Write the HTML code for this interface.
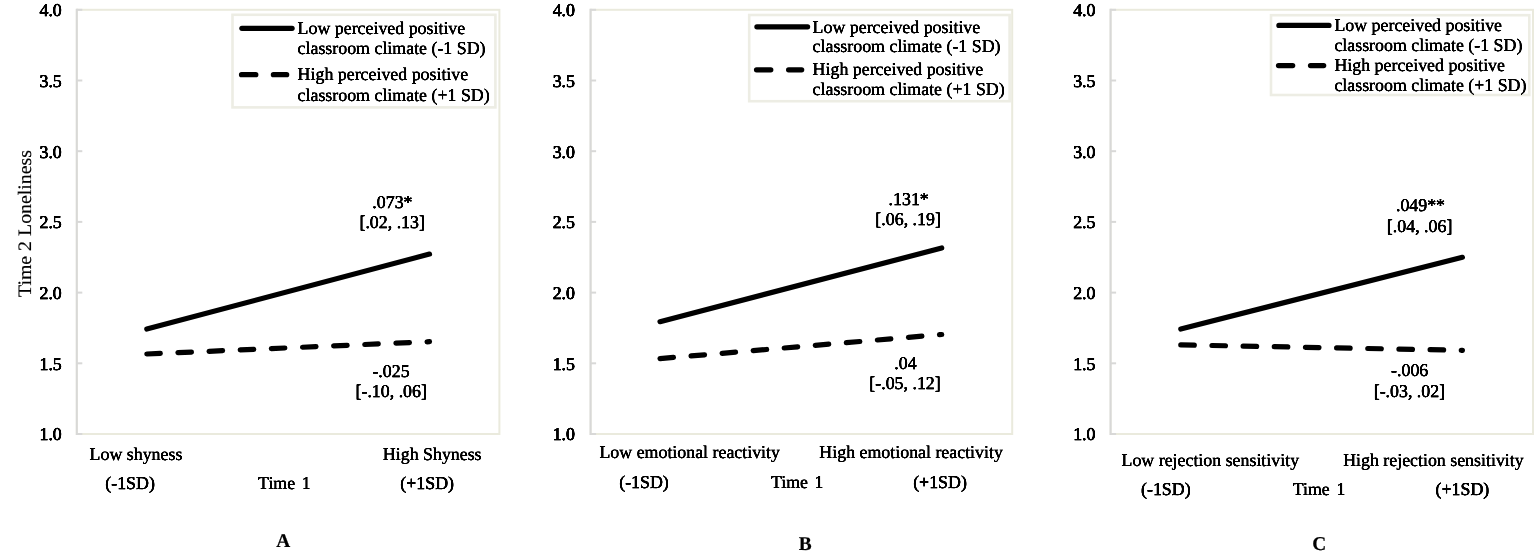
<!DOCTYPE html>
<html lang="en"><head><meta charset="utf-8"><title>Figure</title>
<style>html,body{margin:0;padding:0;background:#fff;overflow:hidden}svg{display:block}text{filter:url(#hb);text-rendering:geometricPrecision;font-family:"Liberation Serif", "DejaVu Serif", serif;font-size:18px;fill:#000;stroke:#000;stroke-width:0.15px;white-space:pre}.n{font-size:18px;stroke-width:0.25px}.d{stroke:#000;stroke-width:5.2;stroke-linecap:round;fill:none}</style></head><body>
<svg width="1535" height="557" viewBox="0 0 1535 557">
<defs><filter id="hb" x="-10%" y="-30%" width="120%" height="160%" color-interpolation-filters="sRGB"><feGaussianBlur stdDeviation="0.55 0"/><feComponentTransfer><feFuncA type="linear" slope="1.7" intercept="0"/></feComponentTransfer></filter></defs>
<rect width="1535" height="557" fill="#fff"/>
<rect x="76.8" y="9.8" width="422.6" height="424.2" fill="none" stroke="#eaeadd" stroke-width="2"/>
<line x1="76.8" y1="8.8" x2="76.8" y2="435.0" stroke="#d8d8d7" stroke-width="2"/>
<line x1="76.8" y1="9.8" x2="82.3" y2="9.8" stroke="#d8d8d7" stroke-width="2"/>
<text class="n" transform="translate(61.8 16.2) scale(0.992 1)" text-anchor="end" style="stroke-width:0.4px">4.0</text>
<line x1="76.8" y1="80.5" x2="82.3" y2="80.5" stroke="#d8d8d7" stroke-width="2"/>
<text class="n" transform="translate(61.8 87.2) scale(0.992 1)" text-anchor="end" style="stroke-width:0.4px">3.5</text>
<line x1="76.8" y1="151.2" x2="82.3" y2="151.2" stroke="#d8d8d7" stroke-width="2"/>
<text class="n" transform="translate(61.8 158.2) scale(0.992 1)" text-anchor="end" style="stroke-width:0.4px">3.0</text>
<line x1="76.8" y1="221.9" x2="82.3" y2="221.9" stroke="#d8d8d7" stroke-width="2"/>
<text class="n" transform="translate(61.8 228.2) scale(0.992 1)" text-anchor="end" style="stroke-width:0.4px">2.5</text>
<line x1="76.8" y1="292.6" x2="82.3" y2="292.6" stroke="#d8d8d7" stroke-width="2"/>
<text class="n" transform="translate(61.8 299.2) scale(0.992 1)" text-anchor="end" style="stroke-width:0.4px">2.0</text>
<line x1="76.8" y1="363.3" x2="82.3" y2="363.3" stroke="#d8d8d7" stroke-width="2"/>
<text class="n" transform="translate(61.8 370.2) scale(0.992 1)" text-anchor="end" style="stroke-width:0.4px">1.5</text>
<line x1="76.8" y1="434.0" x2="82.3" y2="434.0" stroke="#d8d8d7" stroke-width="2"/>
<text class="n" transform="translate(61.8 440.2) scale(0.992 1)" text-anchor="end" style="stroke-width:0.4px">1.0</text>
<rect x="232.5" y="14.8" width="262.9" height="92.6" fill="#fff" stroke="#edede4" stroke-width="2.6"/>
<line class="d" x1="241.9" y1="28.3" x2="292.1" y2="28.3"/>
<line class="d" x1="241.5" y1="74.7" x2="255.8" y2="74.7"/>
<line class="d" x1="273.4" y1="74.7" x2="286.7" y2="74.7"/>
<text transform="translate(297.6 34.1) scale(0.992 1)">Low perceived positive</text>
<text transform="translate(297.6 54.1) scale(0.992 1)">classroom climate (-1 SD)</text>
<text transform="translate(297.6 80.1) scale(0.992 1)">High perceived positive</text>
<text transform="translate(297.6 101.1) scale(0.992 1)">classroom climate (+1 SD)</text>
<line class="d" x1="146.8" y1="329" x2="429.5" y2="254.1"/>
<line class="d" x1="146.8" y1="354" x2="429.5" y2="341.7" stroke-dasharray="13.5 17.67"/>
<text class="n" transform="translate(392.4 207.9) scale(0.992 1)" text-anchor="middle">.073*</text>
<text class="n" transform="translate(392.2 227.9) scale(0.992 1)" text-anchor="middle">[.02, .13]</text>
<text class="n" transform="translate(391.0 377.4) scale(0.992 1)" text-anchor="middle">-.025</text>
<text class="n" transform="translate(391.2 397.4) scale(0.992 1)" text-anchor="middle">[-.10, .06]</text>
<text transform="translate(136.0 460.2) scale(0.992 1)" text-anchor="middle">Low shyness</text>
<text transform="translate(432.2 460.0) scale(0.992 1)" text-anchor="middle">High Shyness</text>
<text class="n" transform="translate(130.1 489.4) scale(0.992 1)" text-anchor="middle">(-1SD)</text>
<text transform="translate(284.4 489.0) scale(0.992 1)" text-anchor="middle">Time <tspan dx="2.2">1</tspan></text>
<text class="n" transform="translate(427.2 489.3) scale(0.992 1)" text-anchor="middle">(+1SD)</text>
<text transform="translate(283.3 546.7) scale(0.992 1)" text-anchor="middle" font-weight="bold" style="font-size:19.5px;stroke-width:0.2px;filter:none">A</text>
<rect x="590.6" y="9.8" width="421.6" height="424.2" fill="none" stroke="#eaeadd" stroke-width="2"/>
<line x1="590.6" y1="8.8" x2="590.6" y2="435.0" stroke="#d8d8d7" stroke-width="2"/>
<line x1="590.6" y1="9.8" x2="596.1" y2="9.8" stroke="#d8d8d7" stroke-width="2"/>
<text class="n" transform="translate(575.0 16.2) scale(0.992 1)" text-anchor="end" style="stroke-width:0.4px">4.0</text>
<line x1="590.6" y1="80.5" x2="596.1" y2="80.5" stroke="#d8d8d7" stroke-width="2"/>
<text class="n" transform="translate(575.0 87.2) scale(0.992 1)" text-anchor="end" style="stroke-width:0.4px">3.5</text>
<line x1="590.6" y1="151.2" x2="596.1" y2="151.2" stroke="#d8d8d7" stroke-width="2"/>
<text class="n" transform="translate(575.0 158.2) scale(0.992 1)" text-anchor="end" style="stroke-width:0.4px">3.0</text>
<line x1="590.6" y1="221.9" x2="596.1" y2="221.9" stroke="#d8d8d7" stroke-width="2"/>
<text class="n" transform="translate(575.0 228.2) scale(0.992 1)" text-anchor="end" style="stroke-width:0.4px">2.5</text>
<line x1="590.6" y1="292.6" x2="596.1" y2="292.6" stroke="#d8d8d7" stroke-width="2"/>
<text class="n" transform="translate(575.0 299.2) scale(0.992 1)" text-anchor="end" style="stroke-width:0.4px">2.0</text>
<line x1="590.6" y1="363.3" x2="596.1" y2="363.3" stroke="#d8d8d7" stroke-width="2"/>
<text class="n" transform="translate(575.0 370.2) scale(0.992 1)" text-anchor="end" style="stroke-width:0.4px">1.5</text>
<line x1="590.6" y1="434.0" x2="596.1" y2="434.0" stroke="#d8d8d7" stroke-width="2"/>
<text class="n" transform="translate(575.0 440.2) scale(0.992 1)" text-anchor="end" style="stroke-width:0.4px">1.0</text>
<rect x="749.2" y="15" width="260.4" height="86.2" fill="#fff" stroke="#edede4" stroke-width="2.6"/>
<line class="d" x1="756.9" y1="26.8" x2="807.6" y2="26.8"/>
<line class="d" x1="756.5" y1="69.8" x2="770.8" y2="69.8"/>
<line class="d" x1="788.6" y1="69.8" x2="801.7" y2="69.8"/>
<text transform="translate(812.6 32.6) scale(0.992 1)">Low perceived positive</text>
<text transform="translate(812.6 52.0) scale(0.992 1)">classroom climate (-1 SD)</text>
<text transform="translate(812.6 74.7) scale(0.992 1)">High perceived positive</text>
<text transform="translate(812.6 95.4) scale(0.992 1)">classroom climate (+1 SD)</text>
<line class="d" x1="660" y1="321.7" x2="941.7" y2="248"/>
<line class="d" x1="660" y1="358.6" x2="941.7" y2="334.5" stroke-dasharray="13.5 17.67"/>
<text class="n" transform="translate(908.7 205.0) scale(0.992 1)" text-anchor="middle">.131*</text>
<text class="n" transform="translate(908.1 225.1) scale(0.992 1)" text-anchor="middle">[.06, .19]</text>
<text class="n" transform="translate(905.4 368.7) scale(0.992 1)" text-anchor="middle">.04</text>
<text class="n" transform="translate(905.0 389.1) scale(0.992 1)" text-anchor="middle">[-.05, .12]</text>
<text transform="translate(689.7 458.0) scale(0.992 1)" text-anchor="middle">Low emotional reactivity</text>
<text transform="translate(911.1 458.0) scale(0.992 1)" text-anchor="middle">High emotional reactivity</text>
<text class="n" transform="translate(644.0 488.3) scale(0.992 1)" text-anchor="middle">(-1SD)</text>
<text transform="translate(797.2 488.1) scale(0.992 1)" text-anchor="middle">Time <tspan dx="2.2">1</tspan></text>
<text class="n" transform="translate(940.0 488.3) scale(0.992 1)" text-anchor="middle">(+1SD)</text>
<text transform="translate(805.2 550.0) scale(0.992 1)" text-anchor="middle" font-weight="bold" style="font-size:19.5px;stroke-width:0.2px;filter:none">B</text>
<rect x="1110.6" y="9.8" width="422.4" height="424.2" fill="none" stroke="#eaeadd" stroke-width="2"/>
<line x1="1110.6" y1="8.8" x2="1110.6" y2="435.0" stroke="#d8d8d7" stroke-width="2"/>
<line x1="1110.6" y1="9.8" x2="1116.1" y2="9.8" stroke="#d8d8d7" stroke-width="2"/>
<text class="n" transform="translate(1095.5 16.2) scale(0.992 1)" text-anchor="end" style="stroke-width:0.4px">4.0</text>
<line x1="1110.6" y1="80.5" x2="1116.1" y2="80.5" stroke="#d8d8d7" stroke-width="2"/>
<text class="n" transform="translate(1095.5 87.2) scale(0.992 1)" text-anchor="end" style="stroke-width:0.4px">3.5</text>
<line x1="1110.6" y1="151.2" x2="1116.1" y2="151.2" stroke="#d8d8d7" stroke-width="2"/>
<text class="n" transform="translate(1095.5 158.2) scale(0.992 1)" text-anchor="end" style="stroke-width:0.4px">3.0</text>
<line x1="1110.6" y1="221.9" x2="1116.1" y2="221.9" stroke="#d8d8d7" stroke-width="2"/>
<text class="n" transform="translate(1095.5 228.2) scale(0.992 1)" text-anchor="end" style="stroke-width:0.4px">2.5</text>
<line x1="1110.6" y1="292.6" x2="1116.1" y2="292.6" stroke="#d8d8d7" stroke-width="2"/>
<text class="n" transform="translate(1095.5 299.2) scale(0.992 1)" text-anchor="end" style="stroke-width:0.4px">2.0</text>
<line x1="1110.6" y1="363.3" x2="1116.1" y2="363.3" stroke="#d8d8d7" stroke-width="2"/>
<text class="n" transform="translate(1095.5 370.2) scale(0.992 1)" text-anchor="end" style="stroke-width:0.4px">1.5</text>
<line x1="1110.6" y1="434.0" x2="1116.1" y2="434.0" stroke="#d8d8d7" stroke-width="2"/>
<text class="n" transform="translate(1095.5 440.2) scale(0.992 1)" text-anchor="end" style="stroke-width:0.4px">1.0</text>
<rect x="1271" y="15.2" width="258.3" height="79.8" fill="#fff" stroke="#edede4" stroke-width="2.6"/>
<line class="d" x1="1278.9" y1="25.4" x2="1329.0" y2="25.4"/>
<line class="d" x1="1278.5" y1="65.6" x2="1292.7" y2="65.6"/>
<line class="d" x1="1310.5" y1="65.6" x2="1323.7" y2="65.6"/>
<text transform="translate(1334.4 31.4) scale(0.992 1)">Low perceived positive</text>
<text transform="translate(1334.4 51.2) scale(0.992 1)">classroom climate (-1 SD)</text>
<text transform="translate(1334.4 70.8) scale(0.992 1)">High perceived positive</text>
<text transform="translate(1334.4 90.8) scale(0.992 1)">classroom climate (+1 SD)</text>
<line class="d" x1="1180.8" y1="329" x2="1462.4" y2="257.3"/>
<line class="d" x1="1180.8" y1="344.9" x2="1462.4" y2="350.3" stroke-dasharray="13.5 17.67"/>
<text class="n" transform="translate(1420.5 211.4) scale(0.992 1)" text-anchor="middle">.049**</text>
<text class="n" transform="translate(1419.6 231.8) scale(0.992 1)" text-anchor="middle">[.04, .06]</text>
<text class="n" transform="translate(1409.7 376.3) scale(0.992 1)" text-anchor="middle">-.006</text>
<text class="n" transform="translate(1409.4 396.6) scale(0.992 1)" text-anchor="middle">[-.03, .02]</text>
<text transform="translate(1210.3 465.6) scale(0.992 1)" text-anchor="middle">Low rejection sensitivity</text>
<text transform="translate(1433.4 465.6) scale(0.992 1)" text-anchor="middle">High rejection sensitivity</text>
<text class="n" transform="translate(1165.8 495.3) scale(0.992 1)" text-anchor="middle">(-1SD)</text>
<text transform="translate(1319.0 495.1) scale(0.992 1)" text-anchor="middle">Time <tspan dx="2.2">1</tspan></text>
<text class="n" transform="translate(1462.4 495.3) scale(0.992 1)" text-anchor="middle">(+1SD)</text>
<text transform="translate(1319.2 550.0) scale(0.992 1)" text-anchor="middle" font-weight="bold" style="font-size:19.5px;stroke-width:0.2px;filter:none">C</text>
<text transform="translate(31.2,223.5) rotate(-90) scale(1.045 1)" text-anchor="middle" style="font-size:19px;stroke-width:0.15px;filter:none">Time 2 Loneliness</text>
</svg></body></html>
